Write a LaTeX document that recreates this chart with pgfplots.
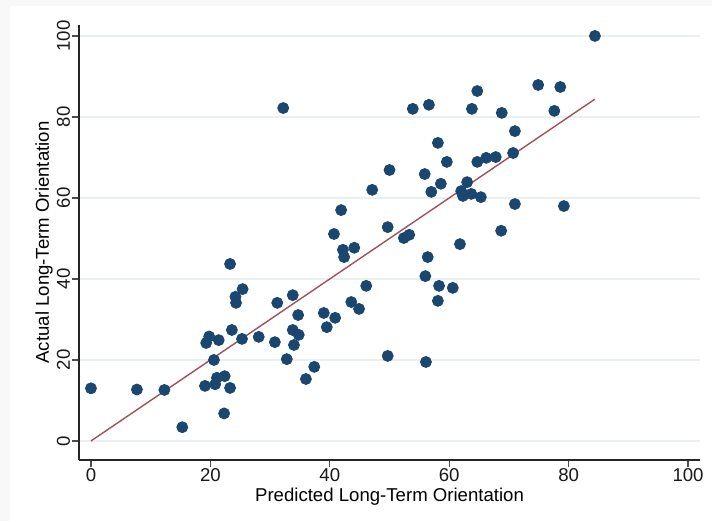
\documentclass[border=0pt]{standalone}
\usepackage{fontspec}
\setmainfont{Liberation Sans}
\usepackage{pgfplots}
\pgfplotsset{compat=1.18}
\definecolor{statanavy}{HTML}{1A476F}
\definecolor{statamaroon}{HTML}{A0515B}
\definecolor{gridcol}{HTML}{EAF0F1}

\begin{document}
\begin{tikzpicture}
% page: 712x521 px at 0.5pt per px
\path[use as bounding box, fill={rgb,255:red,248;green,248;blue,248}] (0,0) rectangle (356pt,260.5pt);
\fill[white] (5pt,0) rectangle (356pt,257.5pt);
\begin{axis}[
  at={(39.5pt,30.5pt)}, anchor=south west,
  scale only axis, width=310.5pt, height=217.5pt,
  xmin=-2, xmax=102, ymin=-4.7, ymax=102.7,
  axis lines=left, axis line style={-, line width=0.7pt, color=black!85},
  xtick={0,20,...,100}, ytick={0,20,...,100},
  tick align=outside, major tick length=3.5pt,
  tick style={line width=0.6pt, color=black!70},
  ymajorgrids, grid style={gridcol, line width=0.8pt},
  /pgf/number format/assume math mode=true,
  ticklabel style={font=\fontsize{9.3}{10}\selectfont, text=black!90},
  xticklabel style={anchor=base, yshift=-7pt},
  % rotated labels: a positive yshift moves them to the left
  yticklabel style={rotate=90, anchor=base, yshift=1pt},
  xlabel={Predicted Long-Term Orientation},
  ylabel={Actual Long-Term Orientation},
  label style={font=\fontsize{9.3}{10}\selectfont},
  xlabel style={at={(axis description cs:0.5,0)}, anchor=base, yshift=-20.5pt, inner sep=0pt},
  ylabel style={at={(axis description cs:0,0.5)}, anchor=base, yshift=15pt},
  clip=false,
]
\addplot[only marks, mark=*, mark size=2.75pt, mark options={fill=statanavy, draw=statanavy}] coordinates {
(0,13.0) (7.7,12.7) (12.3,12.6) (15.3,3.4) (19.1,13.6) (19.3,24.2)
(19.8,25.8) (20.6,20.0) (20.8,14.0) (21.1,15.6) (21.4,24.9) (22.4,16.0)
(22.3,6.8) (23.3,13.1) (23.3,43.7) (23.6,27.4) (24.2,35.6) (24.3,34.1)
(25.4,37.5) (25.3,25.2) (28.1,25.7) (30.8,24.4) (31.2,34.1) (32.8,20.2)
(32.2,82.2) (33.8,36.0) (34.0,23.7) (33.8,27.4) (34.7,31.1) (34.8,26.2)
(36.0,15.3) (37.4,18.3) (39.0,31.6) (39.5,28.1) (40.9,30.4) (40.7,51.1)
(41.9,57.0) (42.2,47.2) (42.4,45.4) (44.1,47.7) (43.6,34.3) (44.9,32.6)
(46.1,38.3) (47.1,62.0) (49.7,21.0) (49.7,52.8) (50.0,66.9) (52.4,50.1)
(53.3,50.9) (53.9,82.0) (56.6,83.0) (55.9,65.9) (57.0,61.5) (58.1,73.6)
(58.6,63.5) (59.6,68.9) (56.4,45.4) (56.0,40.7) (58.3,38.3) (60.6,37.8)
(58.1,34.6) (56.1,19.5) (61.8,48.6) (62.0,61.7) (62.3,60.5) (63.0,63.9)
(63.7,61.0) (65.3,60.2) (63.8,82.0) (64.7,86.4) (64.7,68.9) (66.2,69.9)
(67.8,70.1) (68.7,51.9) (68.8,81.0) (70.7,71.1) (71.0,76.5) (71.0,58.5)
(74.9,87.9) (77.6,81.5) (78.6,87.4) (79.2,58.0) (84.4,100.0)
};
\addplot[statamaroon, line width=0.7pt, no marks] coordinates {(0,0) (84.4,84.4)};
\end{axis}
\end{tikzpicture}
\end{document}
